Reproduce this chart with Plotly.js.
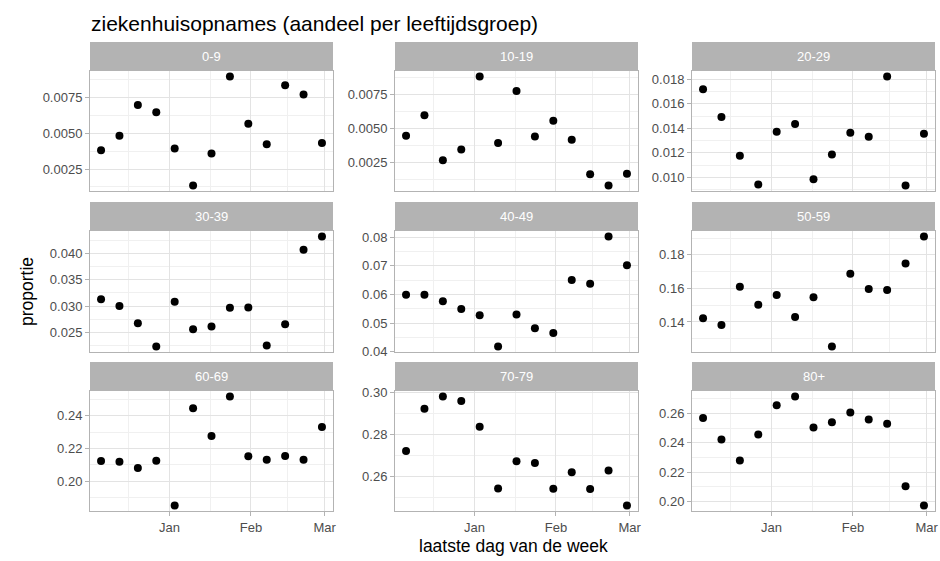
<!DOCTYPE html>
<html>
<head>
<meta charset="utf-8">
<script src="https://cdn.plot.ly/plotly-3.0.1.min.js"></script>
<style>
  html, body { margin: 0; padding: 0; background: #ffffff; }
  #chart { width: 940px; height: 561px; }
</style>
</head>
<body>
<div id="chart"></div>
<script>
// ---- data ----
const weeks = ['2020-12-06','2020-12-13','2020-12-20','2020-12-27','2021-01-03','2021-01-10',
               '2021-01-17','2021-01-24','2021-01-31','2021-02-07','2021-02-14','2021-02-21','2021-02-28'];
const groups = ['0-9','10-19','20-29','30-39','40-49','50-59','60-69','70-79','80+'];

const p0_9   = [0.00381,0.00482,0.00696,0.00645,0.00393,0.00135,0.00358,0.00895,0.00565,0.00422,0.00833,0.00769,0.00431];
const p10_19 = [0.00446,0.00595,0.00266,0.00345,0.00879,0.00393,0.00773,0.00441,0.00556,0.00417,0.00164,0.00082,0.00168];
const p20_29 = [0.01719,0.01493,0.01175,0.00940,0.01372,0.01436,0.00984,0.01186,0.01364,0.01331,0.01824,0.00932,0.01356];
const p30_39 = [0.03132,0.03000,0.02673,0.02234,0.03083,0.02560,0.02611,0.02970,0.02975,0.02253,0.02655,0.04070,0.04320];
const p40_49 = [0.0599,0.0599,0.0576,0.0549,0.0527,0.0418,0.0530,0.0482,0.0465,0.0650,0.0637,0.0802,0.0702];
const p50_59 = [0.1422,0.1382,0.1610,0.1503,0.1560,0.1430,0.1548,0.1254,0.1687,0.1596,0.1590,0.1748,0.1909];
const p60_69 = [0.2123,0.2119,0.2080,0.2125,0.1851,0.2445,0.2276,0.2517,0.2152,0.2131,0.2154,0.2131,0.2330];
const p70_79 = [0.2721,0.2922,0.2980,0.2958,0.2836,0.2544,0.2673,0.2665,0.2543,0.2621,0.2541,0.2629,0.2463];
const p80    = [0.2568,0.2423,0.2279,0.2456,0.2655,0.2715,0.2503,0.2539,0.2606,0.2559,0.2530,0.2105,0.1973];

const series = [p0_9,p10_19,p20_29,p30_39,p40_49,p50_59,p60_69,p70_79,p80];
const yDticks = [0.0025,0.0025,0.002,0.005,0.01,0.02,0.02,0.02,0.02];
const yFormats = ['.4f','.4f','.3f','.3f','.2f','.2f','.2f','.2f','.2f'];
const xTickVals = ['2021-01-01','2021-02-01','2021-03-01'];
const xTickText = ['Jan','Feb','Mar'];
const xMinorVals = ['2020-12-16 12:00','2021-01-16 12:00','2021-02-15'];

// ---- layout geometry (pixels) ----
const W = 940, H = 561;
const colX = [[90,333],[395,638],[692,935]];
const rowY = [[71,191],[231,352],[391,511]];   // plot area top,bottom
const stripH = 29;
const px = v => v / W;
const py = v => 1 - v / H;

function pad(lo, hi) { const d = (hi - lo) * 0.05; return [lo - d, hi + d]; }

const tMs = weeks.map(d => new Date(d + 'T00:00:00Z').getTime());
const xr = pad(Math.min(...tMs), Math.max(...tMs));
const fmt = ms => new Date(ms).toISOString().slice(0,19).replace('T',' ');
const xRange = [fmt(xr[0]), fmt(xr[1])];

const font = 'Liberation Sans, Arial, Helvetica, sans-serif';
const data = [];
const layout = {
  width: W, height: H,
  margin: {l:0, r:0, t:0, b:0},
  paper_bgcolor: '#ffffff', plot_bgcolor: '#ffffff',
  showlegend: false,
  font: {family: font, color: '#4D4D4D'},
  shapes: [], annotations: []
};

series.forEach((vals, i) => {
  const r = Math.floor(i / 3), c = i % 3;
  const n = i + 1;
  const xa = n === 1 ? 'x' : 'x' + n, ya = n === 1 ? 'y' : 'y' + n;
  data.push({
    type: 'scatter', mode: 'markers', x: weeks, y: vals,
    xaxis: xa, yaxis: ya,
    marker: {color: '#000000', size: 8},
    hoverinfo: 'x+y'
  });
  const bottom = r === 2;
  layout['xaxis' + (n === 1 ? '' : n)] = {
    domain: [px(colX[c][0]), px(colX[c][1])],
    anchor: ya, type: 'date', range: xRange,
    tickmode: 'array', tickvals: xTickVals, ticktext: xTickText,
    showticklabels: bottom, ticks: bottom ? 'outside' : '', ticklen: 4, tickcolor: '#B3B3B3',
    tickfont: {size: 13, color: '#4D4D4D', family: font},
    showgrid: true, gridcolor: '#E3E3E3', gridwidth: 1,
    minor: {tickmode: 'array', tickvals: xMinorVals, showgrid: true, gridcolor: '#F0F0F0', gridwidth: 1, ticks: ''},
    showline: true, mirror: true, linecolor: '#B3B3B3', linewidth: 1,
    zeroline: false, fixedrange: true
  };
  const yr = pad(Math.min(...vals), Math.max(...vals));
  layout['yaxis' + (n === 1 ? '' : n)] = {
    domain: [py(rowY[r][1]), py(rowY[r][0])],
    anchor: xa, range: yr,
    tickmode: 'linear', tick0: 0, dtick: yDticks[i], tickformat: yFormats[i],
    ticks: 'outside', ticklen: 4, tickcolor: '#B3B3B3',
    tickfont: {size: 13, color: '#4D4D4D', family: font},
    showgrid: true, gridcolor: '#E3E3E3', gridwidth: 1,
    minor: {tick0: 0, dtick: yDticks[i] / 2, showgrid: true, gridcolor: '#F0F0F0', gridwidth: 1, ticks: ''},
    showline: true, mirror: true, linecolor: '#B3B3B3', linewidth: 1,
    zeroline: false, fixedrange: true
  };
  // strip
  layout.shapes.push({
    type: 'rect', xref: 'paper', yref: 'paper',
    x0: px(colX[c][0]), x1: px(colX[c][1]),
    y0: py(rowY[r][0]), y1: py(rowY[r][0] - stripH),
    fillcolor: '#B3B3B3', line: {width: 0}, layer: 'above'
  });
  layout.annotations.push({
    text: groups[i], xref: 'paper', yref: 'paper',
    x: px((colX[c][0] + colX[c][1]) / 2), y: py(rowY[r][0] - stripH / 2),
    xanchor: 'center', yanchor: 'middle', showarrow: false,
    font: {size: 13, color: '#FFFFFF', family: font}
  });
});

layout.annotations.push({
  text: 'ziekenhuisopnames (aandeel per leeftijdsgroep)', xref: 'paper', yref: 'paper',
  x: px(89), y: py(23), xanchor: 'left', yanchor: 'middle', showarrow: false,
  font: {size: 21, color: '#000000', family: font}
});
layout.annotations.push({
  text: 'laatste dag van de week', xref: 'paper', yref: 'paper',
  x: px(513), y: py(546), xanchor: 'center', yanchor: 'middle', showarrow: false,
  font: {size: 17.5, color: '#000000', family: font}
});
layout.annotations.push({
  text: 'proportie', xref: 'paper', yref: 'paper', textangle: -90,
  x: px(27), y: py(292), xanchor: 'center', yanchor: 'middle', showarrow: false,
  font: {size: 17.5, color: '#000000', family: font}
});

Plotly.newPlot('chart', data, layout, {displayModeBar: false, staticPlot: true});
</script>
</body>
</html>
